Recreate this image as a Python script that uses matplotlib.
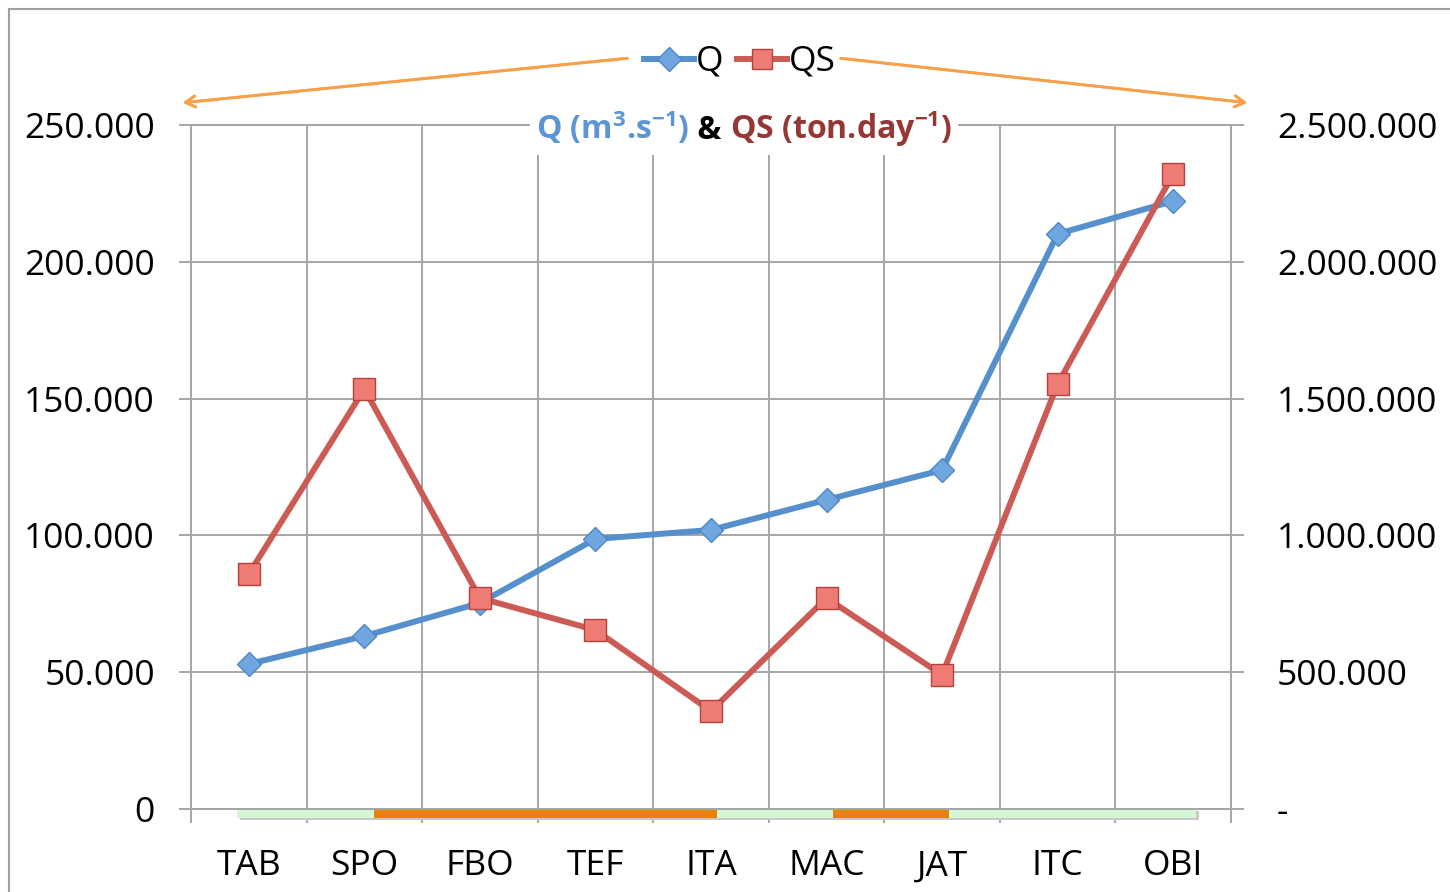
import matplotlib.pyplot as plt
import numpy as np
from matplotlib.patches import Rectangle
from matplotlib.lines import Line2D
from matplotlib.offsetbox import TextArea, HPacker, AnnotationBbox
from matplotlib.ticker import FuncFormatter

plt.rcParams['font.family'] = ['Open Sans', 'DejaVu Sans']
plt.rcParams['mathtext.fontset'] = 'custom'
plt.rcParams['mathtext.rm'] = 'Open Sans'
plt.rcParams['mathtext.bf'] = 'Open Sans:bold'

stations = ["TAB", "SPO", "FBO", "TEF", "ITA", "MAC", "JAT", "ITC", "OBI"]
q = [53000, 63200, 75300, 98700, 102000, 113000, 123900, 210200, 222200]
qs = [859000, 1535000, 771000, 654000, 358000, 771000, 490000, 1553000, 2321000]

# coloured strip under the axis (station index ranges)
band_start = [-0.1, 1.08, 4.05, 5.06, 6.06]
band_end = [1.08, 4.05, 5.06, 6.06, 8.2]
band_color = ["#D3F8D3", "#E8820C", "#D3F8D3", "#E8820C", "#D3F8D3"]

blue = "#5590CC"
red = "#CD5B55"
grid_c = "#A6A6A6"
orange = "#F9A04A"
fs = 25.5

fig = plt.figure(figsize=(14.5, 8.92), dpi=100)
ax = fig.add_axes([191/1450, 83/892, 1040/1450, 684/892])
ax2 = ax.twinx()

x = np.arange(len(stations))
ax.set_xlim(-0.5, len(stations) - 0.5)
ax.set_ylim(0, 250000)
ax2.set_ylim(0, 2500000)

ax.set_xticks(x)
ax.set_xticklabels(stations)
ax.set_xticks(np.arange(-0.5, len(stations), 1), minor=True)
ax.set_yticks(np.arange(0, 250001, 50000))
ax2.set_yticks(np.arange(0, 2500001, 500000))

ax.yaxis.set_major_formatter(FuncFormatter(lambda v, p: f"{v:,.0f}".replace(",", ".")))
ax2.yaxis.set_major_formatter(FuncFormatter(lambda v, p: "-" if v == 0 else f"{v:,.0f}".replace(",", ".")))

ax.grid(which="minor", axis="x", color=grid_c, lw=1.4)
ax.grid(which="major", axis="y", color=grid_c, lw=1.4)
ax.set_axisbelow(True)

ax.tick_params(axis="x", which="major", length=0, pad=29, labelsize=fs)
ax.tick_params(axis="x", which="minor", length=10, width=1.4, color=grid_c)
ax.tick_params(axis="y", length=9, width=1.4, color=grid_c, pad=17, labelsize=fs)
ax2.tick_params(axis="y", length=9, width=1.4, color=grid_c, pad=24, labelsize=fs)
for a in (ax, ax2):
    for s in a.spines.values():
        s.set_color(grid_c)
        s.set_linewidth(1.4)

ax.plot(x, q, color=blue, lw=4.3, marker="D", ms=12, mfc="#6FA6E0", mec="#4F86C6", mew=1, zorder=3)
ax2.plot(x, qs, color=red, lw=4.3, marker="s", ms=15.5, mfc="#EE7B74", mec="#B9413C", mew=1, zorder=3)

for s0, s1, c in zip(band_start, band_end, band_color):
    ax.add_patch(Rectangle((s0 + 0.02, -4000), s1 - s0, 3300, color="#C8C8C8", clip_on=False, zorder=4, lw=0))
    ax.add_patch(Rectangle((s0, -3300), s1 - s0, 3300, color=c, clip_on=False, zorder=5, lw=0))

# title with coloured parts
tp = dict(fontsize=23, fontweight="bold")
parts = [TextArea(r"Q (m$^{\mathbf{3}}$.s$^{\mathbf{-1}}$)", textprops=dict(color="#5B95D8", **tp)),
         TextArea(" & ", textprops=dict(color="black", **tp)),
         TextArea(r"QS (ton.day$^{\mathbf{-1}}$)", textprops=dict(color="#953735", **tp))]
box = HPacker(children=parts, pad=0, sep=0, align="baseline")
ab = AnnotationBbox(box, (744/1450, 1 - 129/892), xycoords="figure fraction",
                    frameon=True, pad=0.4, bboxprops=dict(fc="white", ec="none"))
fig.add_artist(ab)

handles = [Line2D([], [], color=blue, lw=4.3, marker="D", ms=12, mfc="#6FA6E0", mec="#4F86C6"),
           Line2D([], [], color=red, lw=4.3, marker="s", ms=14, mfc="#EE7B74", mec="#B9413C")]
fig.legend(handles, ["Q", "QS"], loc="center", bbox_to_anchor=(740/1450, 1 - 62/892), ncol=2,
           frameon=False, fontsize=fs, handlelength=1.4, handletextpad=0.05, columnspacing=0.4)

arrow = dict(arrowstyle="->,head_length=0.7,head_width=0.4", color=orange, lw=2)
fig.add_artist(plt.annotate("", xy=(180/1450, 1 - 103/892), xytext=(630/1450, 1 - 58/892),
                            xycoords="figure fraction", textcoords="figure fraction", arrowprops=arrow))
fig.add_artist(plt.annotate("", xy=(1250/1450, 1 - 103/892), xytext=(838/1450, 1 - 58/892),
                            xycoords="figure fraction", textcoords="figure fraction", arrowprops=arrow))

fig.add_artist(Rectangle((9/1450, -0.1), 1.2, 1.1 - 9/892, transform=fig.transFigure,
                         fill=False, ec="#A0A0A0", lw=1.5))

fig.savefig("out.png", dpi=100)
